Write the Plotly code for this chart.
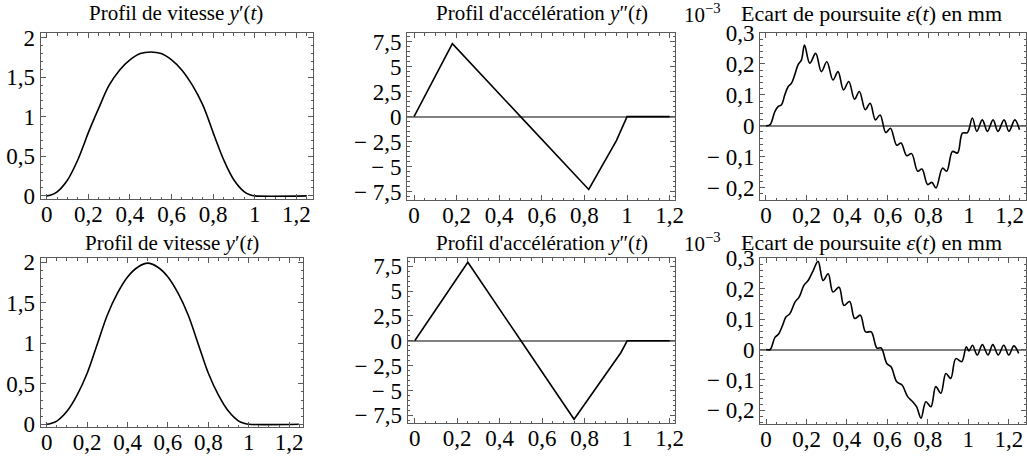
import plotly.graph_objects as go

# ---------------- data ----------------
# Top row
t_vit_a = [0, 0.02, 0.05, 0.10, 0.15, 0.18, 0.20, 0.25, 0.30, 0.35, 0.40, 0.45, 0.50,
           0.55, 0.60, 0.65, 0.70, 0.75, 0.80, 0.82, 0.85, 0.90, 0.95, 0.98, 1.0, 1.25]
vit_a = [0, 0.01, 0.05, 0.20, 0.46, 0.66, 0.80, 1.11, 1.40, 1.59, 1.72, 1.80, 1.82,
         1.80, 1.72, 1.59, 1.40, 1.15, 0.80, 0.66, 0.46, 0.20, 0.05, 0.01, 0, 0]

t_acc_a = [0, 0.18, 0.50, 0.82, 0.95, 1.0, 1.2]
acc_a = [0, 7.3, 0, -7.3, -2.4, 0, 0]

t_err_a = [0, 0.02, 0.044, 0.06, 0.077, 0.093, 0.11, 0.126, 0.142, 0.158, 0.175, 0.19,
           0.216, 0.245, 0.273, 0.30, 0.33, 0.355, 0.382, 0.408, 0.436, 0.46, 0.489,
           0.513, 0.539, 0.562, 0.59, 0.613, 0.644, 0.665, 0.693, 0.717, 0.747, 0.768,
           0.796, 0.817, 0.837, 0.869, 0.89, 0.918, 0.943, 0.967, 0.992, 1.016, 1.038,
           1.065, 1.09, 1.118, 1.142, 1.172, 1.196, 1.225, 1.248]
err_a = [0, 0.003, 0.046, 0.062, 0.068, 0.10, 0.127, 0.138, 0.165, 0.197, 0.213, 0.261,
         0.202, 0.234, 0.175, 0.207, 0.148, 0.175, 0.116, 0.143, 0.086, 0.111, 0.052,
         0.073, 0.019, 0.035, -0.022, -0.008, -0.063, -0.056, -0.097, -0.090, -0.147,
         -0.140, -0.190, -0.183, -0.201, -0.137, -0.147, -0.083, -0.088, -0.024, -0.022,
         0.025, -0.018, 0.019, -0.018, 0.019, -0.018, 0.019, -0.018, 0.019, -0.013]

# Bottom row
t_vit_b = [0, 0.02, 0.05, 0.10, 0.15, 0.20, 0.25, 0.30, 0.35, 0.40, 0.45, 0.50,
           0.55, 0.60, 0.65, 0.70, 0.75, 0.80, 0.85, 0.90, 0.95, 0.98, 1.0, 1.25]
vit_b = [0, 0.01, 0.04, 0.16, 0.36, 0.63, 0.99, 1.35, 1.62, 1.82, 1.94, 1.99,
         1.94, 1.82, 1.62, 1.35, 0.99, 0.63, 0.36, 0.16, 0.04, 0.01, 0, 0]

t_acc_b = [0, 0.25, 0.50, 0.75, 0.97, 1.0, 1.2]
acc_b = [0, 7.9, 0, -7.9, -1.2, 0, 0]

t_err_b = [0, 0.02, 0.044, 0.061, 0.082, 0.098, 0.118, 0.143, 0.164, 0.187, 0.208, 0.23,
           0.257, 0.282, 0.307, 0.331, 0.361, 0.385, 0.413, 0.438, 0.466, 0.492, 0.52,
           0.548, 0.569, 0.597, 0.618, 0.646, 0.672, 0.70, 0.725, 0.744, 0.766, 0.79,
           0.815, 0.839, 0.864, 0.889, 0.913, 0.938, 0.967, 0.99, 1.003, 1.02, 1.044,
           1.069, 1.097, 1.121, 1.148, 1.175, 1.20, 1.225, 1.249]
err_b = [0, 0.0, 0.04, 0.05, 0.08, 0.107, 0.118, 0.156, 0.173, 0.211, 0.227, 0.255,
         0.29, 0.227, 0.249, 0.189, 0.205, 0.145, 0.158, 0.102, 0.113, 0.058, 0.058,
         0.005, 0.005, -0.046, -0.057, -0.106, -0.117, -0.155, -0.172, -0.188, -0.226,
         -0.172, -0.188, -0.122, -0.144, -0.079, -0.095, -0.030, -0.040, 0.009, -0.005,
         0.014, -0.018, 0.016, -0.018, 0.016, -0.018, 0.014, -0.018, 0.012, -0.013]

# tick labels
x_tickvals = [0, 0.2, 0.4, 0.6, 0.8, 1, 1.2]
x_ticktext = ["0", "0,2", "0,4", "0,6", "0,8", "1", "1,2"]
vit_tickvals = [0, 0.5, 1, 1.5, 2]
vit_ticktext = ["0", "0,5", "1", "1,5", "2"]
acc_tickvals = [-7.5, -5, -2.5, 0, 2.5, 5, 7.5]
acc_ticktext = ["\u2212 7,5", "\u2212 5", "\u2212 2,5", "0", "2,5", "5", "7,5"]
err_tickvals = [-0.2, -0.1, 0, 0.1, 0.2, 0.3]
err_ticktext = ["\u2212 0,2", "\u2212 0,1", "0", "0,1", "0,2", "0,3"]

title_vit = "Profil de vitesse <i>y</i>\u2032(<i>t</i>)"
title_acc = "Profil d'accélération <i>y</i>\u2033(<i>t</i>)"
title_err_pow = "10<sup>\u22123</sup>"
title_err = "Ecart de poursuite <i>\u03b5</i>(<i>t</i>) en mm"

# ---------------- figure ----------------
W, H = 1027, 457
FONT = "Liberation Serif"
FRAME = "#5a5a5a"


def px_x(p):
    return p / W


def px_y(p):
    return 1 - p / H


fig = go.Figure()

panels = [
    # (t, y, xdom(px), ydom(px), xrange, yrange, yticks, ytext, zeroline, yminor, shape)
    (t_vit_a, vit_a, (40.7, 313), (33, 199), (-0.029, 1.28), (-0.04, 2.06), vit_tickvals, vit_ticktext, False, 0.1, "spline"),
    (t_acc_a, acc_a, (407, 675), (33, 200), (-0.033, 1.225), (-8.35, 8.37), acc_tickvals, acc_ticktext, True, 0.5, "linear"),
    (t_err_a, err_a, (760, 1026), (33, 200), (-0.029, 1.28), (-0.24, 0.30), err_tickvals, err_ticktext, True, 0.02, "spline"),
    (t_vit_b, vit_b, (40.7, 303.3), (258.3, 427.3), (-0.03, 1.27), (-0.037, 2.05), vit_tickvals, vit_ticktext, False, 0.1, "spline"),
    (t_acc_b, acc_b, (407.7, 675), (258.3, 423.3), (-0.033, 1.225), (-8.3, 8.3), acc_tickvals, acc_ticktext, True, 0.5, "linear"),
    (t_err_b, err_b, (760, 1026), (258.3, 424.3), (-0.03, 1.285), (-0.246, 0.30), err_tickvals, err_ticktext, True, 0.02, "spline"),
]

for i, (tx, yy, xd, yd, xr, yr, ytv, ytt, zl, ymin, shp) in enumerate(panels, start=1):
    sfx = "" if i == 1 else str(i)
    line = dict(color="black", width=1.6, shape=shp)
    if shp == "spline":
        line["smoothing"] = 1.0
    fig.add_trace(go.Scatter(
        x=tx, y=yy, mode="lines", line=line,
        xaxis="x" + sfx, yaxis="y" + sfx, showlegend=False, hoverinfo="skip"))
    common = dict(showline=True, linecolor=FRAME, linewidth=1, mirror="allticks",
                  ticks="inside", ticklen=5, tickwidth=1, tickcolor=FRAME,
                  showgrid=False, fixedrange=True, automargin=False,
                  tickfont=dict(family=FONT, size=23, color="black"))
    fig.layout["xaxis" + sfx] = dict(
        common, domain=[px_x(xd[0]), px_x(xd[1])], range=list(xr),
        anchor="y" + sfx, tickvals=x_tickvals, ticktext=x_ticktext, zeroline=False,
        ticklabelstandoff=-6,
        minor=dict(ticks="inside", ticklen=2.5, dtick=0.05, tick0=0, tickcolor=FRAME, showgrid=False))
    fig.layout["yaxis" + sfx] = dict(
        common, domain=[px_y(yd[1]), px_y(yd[0])], range=list(yr),
        anchor="x" + sfx, tickvals=ytv, ticktext=ytt,
        zeroline=zl, zerolinecolor="#808080", zerolinewidth=1.6,
        minor=dict(ticks="inside", ticklen=2.5, dtick=ymin, tick0=0, tickcolor=FRAME, showgrid=False))

annots = [
    (176, 13, title_vit, "left" if False else "center", 21),
    (542, 13, title_acc, "center", 21),
    (722, 13, title_err_pow, "right", 21),
    (740, 13, title_err, "left", 22),
    (172, 243, title_vit, "center", 21),
    (542, 243, title_acc, "center", 21),
    (722, 243, title_err_pow, "right", 21),
    (740, 243, title_err, "left", 22),
]
for x, y, txt, anc, fs in annots:
    fig.add_annotation(x=px_x(x), y=px_y(y), xref="paper", yref="paper", text=txt,
                       showarrow=False, xanchor=anc, yanchor="middle", borderpad=0,
                       font=dict(family=FONT, size=fs, color="black"))

fig.update_layout(width=W, height=H, margin=dict(l=0, r=0, t=0, b=0, pad=0),
                  paper_bgcolor="white", plot_bgcolor="white")

# remove the browser's default 8px body margin so the figure sits at the page origin
fig.write_html("out.html", config={"displayModeBar": False},
               post_script="document.body.style.margin='0';")
